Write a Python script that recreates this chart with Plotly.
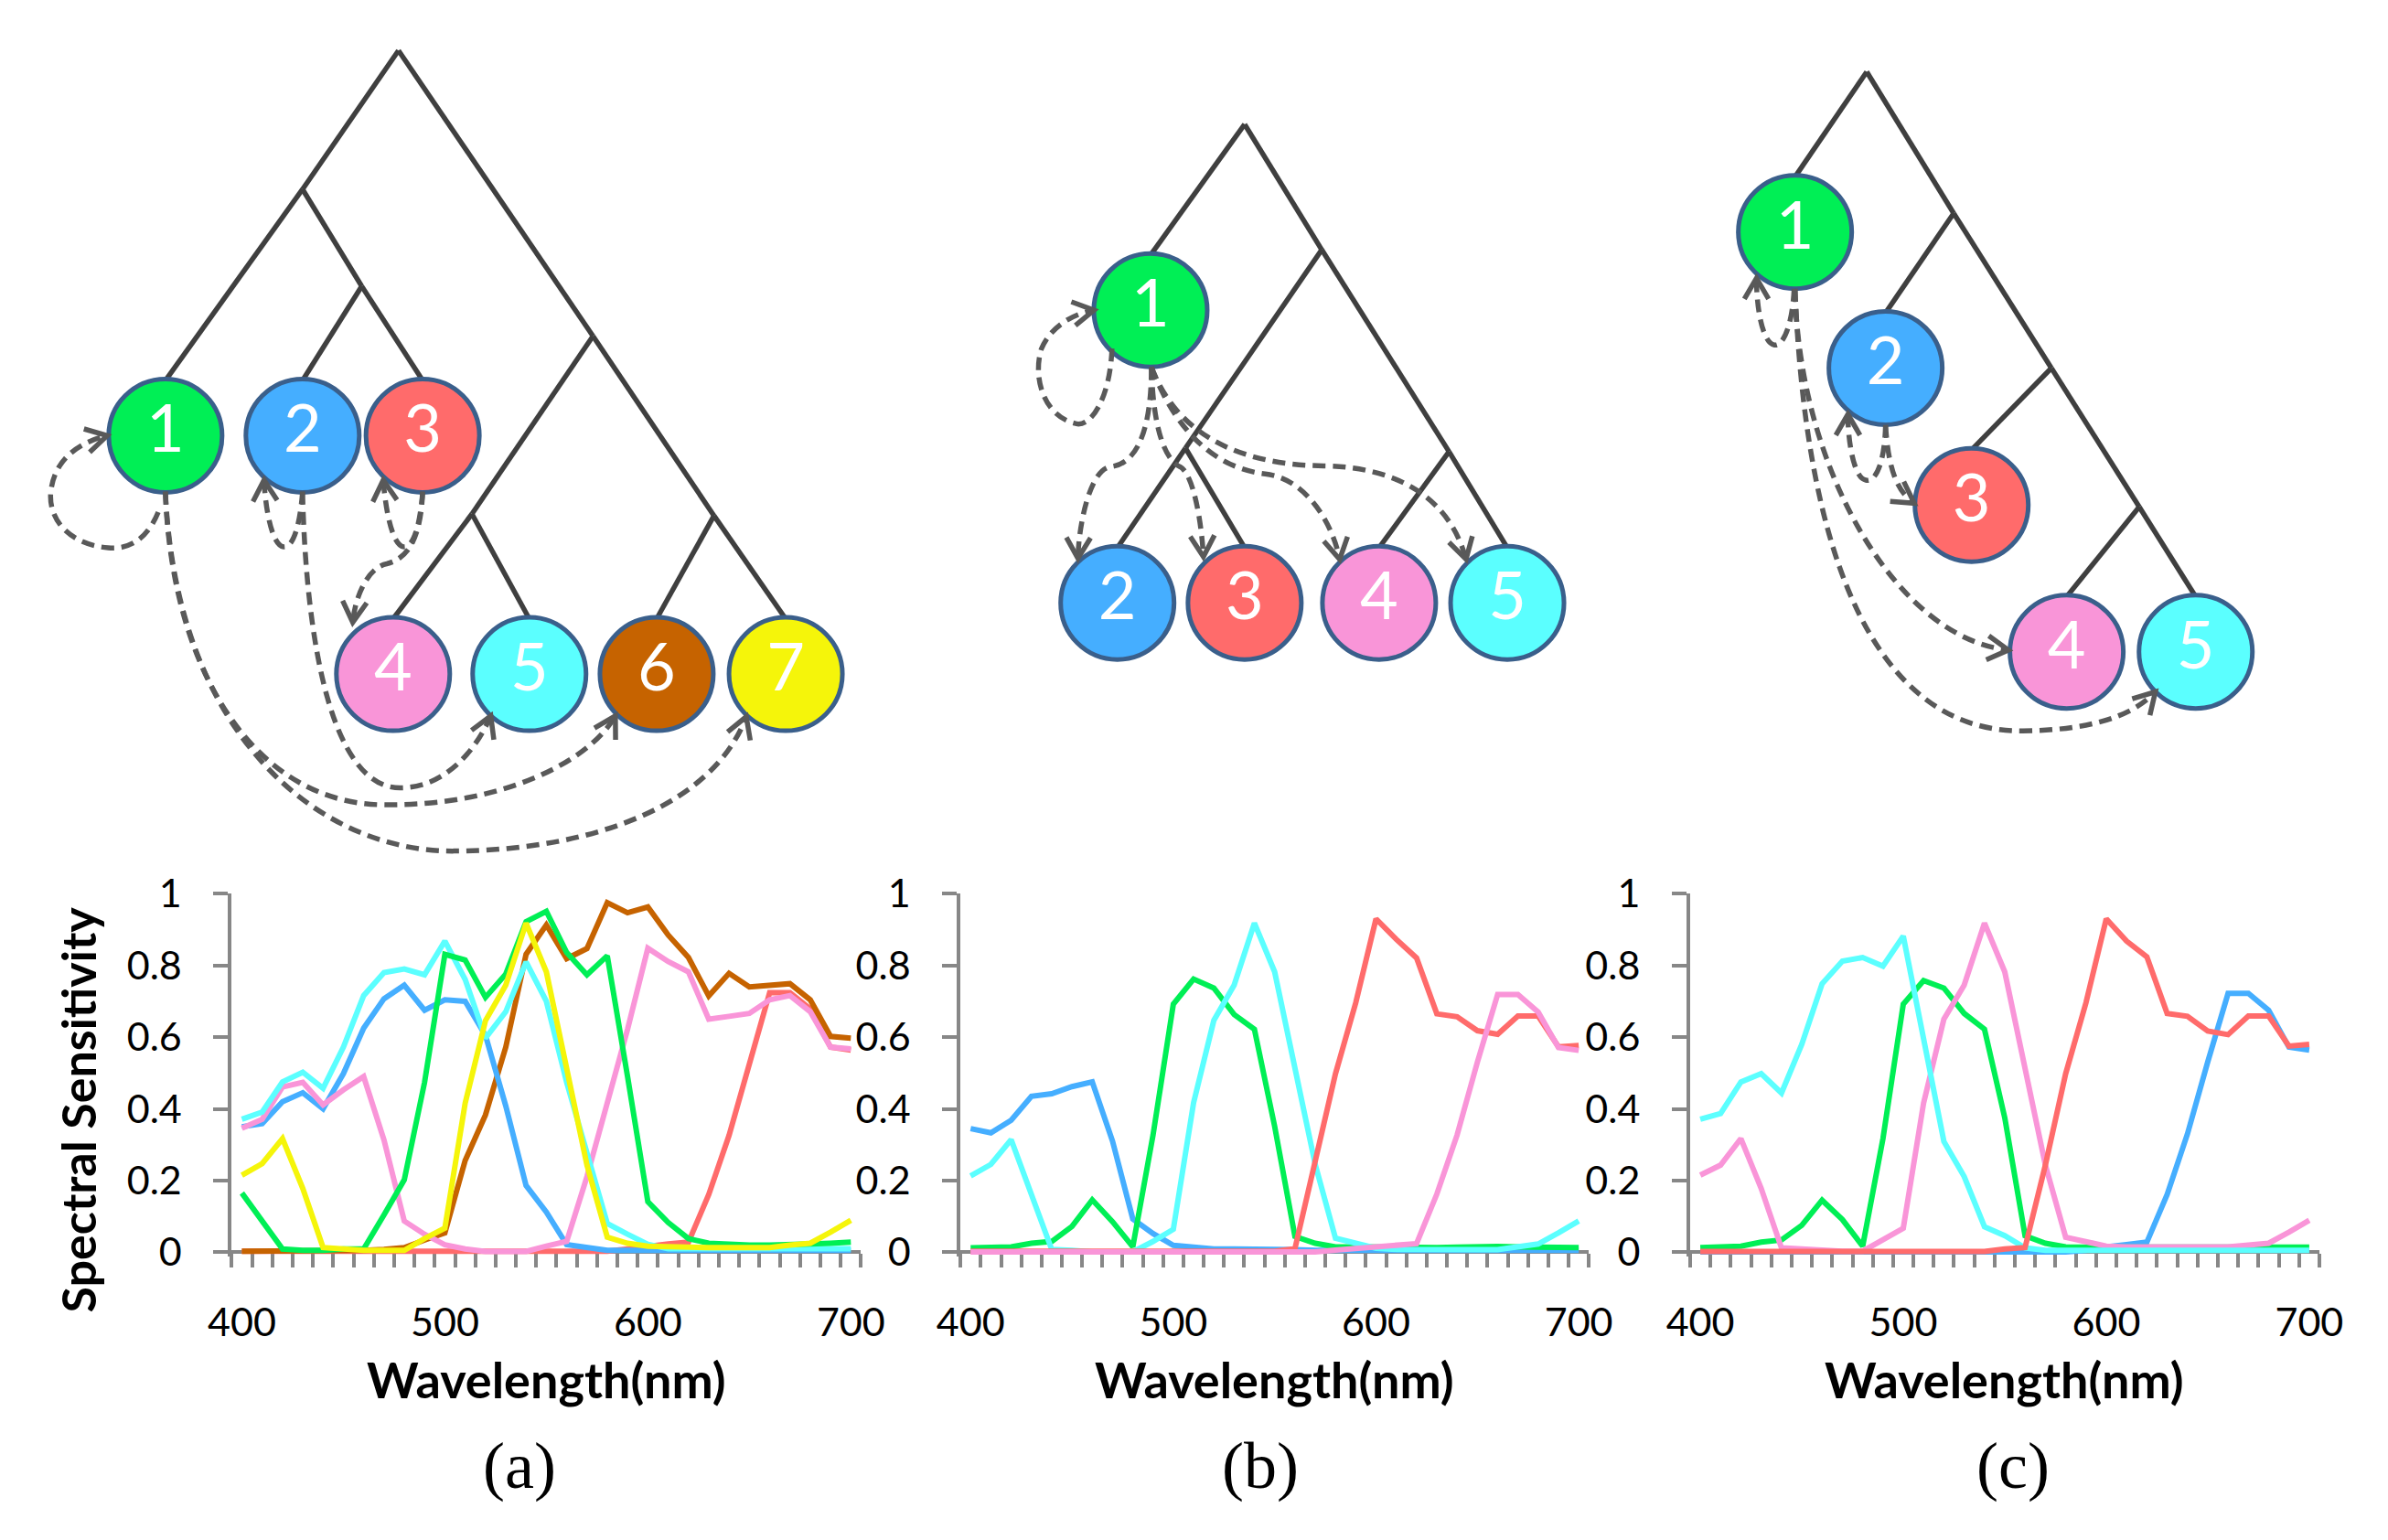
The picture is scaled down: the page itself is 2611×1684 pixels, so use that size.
import math
import plotly.graph_objects as go

W, H = 2611, 1684

# ---------------- chart data (wavelength 400..700 nm, step 10) ----------------
wavelength = list(range(400, 701, 10))

a_red = [0.003] * 19 + [0.009, 0.017, 0.023, 0.028, 0.161, 0.326, 0.531, 0.724, 0.724, 0.679, 0.572, 0.564]
a_brown = [0.003] * 6 + [0.005, 0.008, 0.013, 0.034, 0.054, 0.256, 0.383, 0.572, 0.831, 0.913, 0.819, 0.847,
                         0.975, 0.947, 0.963, 0.885, 0.822, 0.715, 0.778, 0.740, 0.745, 0.749, 0.704, 0.602, 0.597]
a_blue = [0.350, 0.359, 0.420, 0.445, 0.400, 0.498, 0.625, 0.707, 0.745, 0.675, 0.704, 0.700, 0.605, 0.408,
          0.186, 0.112, 0.021, 0.013, 0.005] + [0.005] * 12
a_pink = [0.346, 0.371, 0.461, 0.474, 0.411, 0.453, 0.490, 0.313, 0.087, 0.050, 0.021, 0.009, 0.002, 0.002,
          0.002, 0.017, 0.030, 0.211, 0.416, 0.622, 0.848, 0.811, 0.782, 0.650, 0.658, 0.666, 0.704, 0.716,
          0.671, 0.572, 0.567]
a_cyan = [0.371, 0.391, 0.475, 0.502, 0.457, 0.572, 0.716, 0.780, 0.790, 0.774, 0.868, 0.761, 0.597, 0.671,
          0.810, 0.700, 0.474, 0.280, 0.080, 0.050, 0.022] + [0.010] * 10
a_green = [0.165, 0.087, 0.009, 0.005, 0.005, 0.009, 0.009, 0.104, 0.202, 0.474, 0.831, 0.815, 0.711, 0.776,
           0.922, 0.951, 0.836, 0.774, 0.827, 0.490, 0.141, 0.083, 0.038, 0.025, 0.021, 0.020, 0.020, 0.020,
           0.023, 0.025, 0.028]
a_yellow = [0.215, 0.247, 0.317, 0.178, 0.013, 0.009, 0.005, 0.005, 0.005, 0.038, 0.067, 0.416, 0.646, 0.745,
            0.918, 0.782, 0.507, 0.243, 0.042, 0.025, 0.017, 0.015, 0.013, 0.013, 0.013, 0.013, 0.013, 0.020,
            0.025, 0.056, 0.089]

b_blue = [0.345, 0.333, 0.368, 0.435, 0.442, 0.462, 0.475, 0.310, 0.093, 0.052, 0.019, 0.013, 0.009, 0.009,
          0.009, 0.007, 0.007] + [0.005] * 14
b_green = [0.012, 0.012, 0.015, 0.025, 0.030, 0.072, 0.146, 0.085, 0.015, 0.327, 0.692, 0.762, 0.737, 0.663,
           0.622, 0.351, 0.044, 0.025, 0.015, 0.015, 0.014, 0.013, 0.013, 0.013, 0.014, 0.016, 0.016, 0.015,
           0.014, 0.013, 0.013]
b_cyan = [0.213, 0.245, 0.314, 0.163, 0.008, 0.005, 0.001, 0.001, 0.001, 0.030, 0.064, 0.417, 0.647, 0.745,
          0.918, 0.782, 0.507, 0.245, 0.039, 0.025, 0.011, 0.008, 0.007, 0.007, 0.007, 0.007, 0.007, 0.015,
          0.023, 0.054, 0.087]
b_red = [0.003] * 16 + [0.010, 0.250, 0.498, 0.696, 0.930, 0.873, 0.821, 0.665, 0.657, 0.618, 0.608, 0.659,
                        0.659, 0.573, 0.577]
b_pink = [0.001] * 18 + [0.006, 0.010, 0.014, 0.018, 0.024, 0.162, 0.327, 0.530, 0.719, 0.719, 0.670, 0.571, 0.563]

c_blue = [0.001] * 19 + [0.005, 0.015, 0.021, 0.028, 0.161, 0.330, 0.531, 0.722, 0.722, 0.675, 0.572, 0.564]
c_green = [0.013, 0.015, 0.017, 0.028, 0.034, 0.075, 0.145, 0.091, 0.017, 0.317, 0.692, 0.758, 0.737, 0.666,
           0.622, 0.375, 0.046, 0.025, 0.015, 0.014, 0.014, 0.013, 0.013, 0.014, 0.014, 0.015, 0.016, 0.016,
           0.015, 0.014, 0.014]
c_pink = [0.215, 0.243, 0.317, 0.178, 0.012, 0.009, 0.003, 0.003, 0.003, 0.034, 0.067, 0.416, 0.650, 0.745,
          0.918, 0.782, 0.507, 0.243, 0.042, 0.028, 0.017, 0.015, 0.015, 0.015, 0.015, 0.015, 0.015, 0.020,
          0.025, 0.056, 0.089]
c_cyan = [0.371, 0.387, 0.475, 0.498, 0.444, 0.580, 0.749, 0.812, 0.822, 0.798, 0.882, 0.595, 0.309, 0.211,
          0.071, 0.046, 0.012] + [0.005] * 14
c_red = [0.002] * 15 + [0.009, 0.013, 0.243, 0.498, 0.696, 0.930, 0.868, 0.824, 0.666, 0.658, 0.617, 0.607,
                        0.659, 0.659, 0.575, 0.580]

y_ticks = [0, 0.2, 0.4, 0.6, 0.8, 1]
y_ticktext = ["0", "0.2", "0.4", "0.6", "0.8", "1"]
x_ticks = [400, 500, 600, 700]
panel_labels = ["(a)", "(b)", "(c)"]
x_title = "Wavelength(nm)"
y_title = "Spectral Sensitivity"

# ---------------- tree diagrams (pixel positions in the figure) ----------------
tree_a_node_x = [158, 311, 445, 412, 564, 706, 850]
tree_a_node_y = [462, 462, 462, 730, 730, 730, 730]
tree_a_labels = ["1", "2", "3", "4", "5", "6", "7"]
tree_a_joint = {"r": (418, 29), "A": (311, 185), "B": (377, 294), "C": (635, 350), "D": (500, 550), "E": (770, 552)}
tree_a_edges = [("r", "A"), ("A", 0), ("A", "B"), ("B", 1), ("B", 2), ("r", "C"), ("C", "D"), ("D", 3),
                ("D", 4), ("C", "E"), ("E", 5), ("E", 6)]

tree_b_node_x = [1257, 1220, 1362, 1512, 1655]
tree_b_node_y = [321, 650, 650, 650, 650]
tree_b_labels = ["1", "2", "3", "4", "5"]
tree_b_joint = {"r": (1362, 112), "A": (1448, 253), "B": (1296, 476), "D": (1590, 480)}
tree_b_edges = [("r", 0), ("r", "A"), ("A", "B"), ("B", 1), ("B", 2), ("A", "D"), ("D", 3), ("D", 4)]

tree_c_node_x = [1976, 2077, 2173, 2279, 2423]
tree_c_node_y = [233, 386, 540, 705, 705]
tree_c_labels = ["1", "2", "3", "4", "5"]
tree_c_joint = {"r": (2056, 53), "J1": (2153, 212), "J2": (2262, 386), "J3": (2360, 542)}
tree_c_edges = [("r", 0), ("r", "J1"), ("J1", 1), ("J1", "J2"), ("J2", 2), ("J2", "J3"), ("J3", 3), ("J3", 4)]

# dashed arrows: cubic bezier control points (start, then groups of 3)
arrows_a = [
    [(150, 548), (135, 585), (110, 590), (94, 588), (55, 585), (28, 560), (30, 527), (33, 490), (60, 470), (93, 462)],
    [(311, 525), (308, 565), (300, 588), (290, 587), (278, 586), (270, 550), (268, 512)],
    [(445, 525), (442, 565), (434, 588), (424, 587), (412, 586), (404, 550), (401, 512)],
    [(445, 525), (443, 575), (430, 600), (405, 606), (385, 610), (370, 640), (367, 672)],
    [(311, 525), (315, 700), (345, 858), (420, 858), (470, 858), (505, 815), (521, 777)],
    [(158, 525), (165, 730), (260, 875), (400, 877), (530, 879), (630, 830), (660, 777)],
    [(158, 525), (170, 800), (330, 930), (480, 929), (640, 928), (770, 875), (806, 778)],
]
arrows_b = [
    [(1214, 364), (1212, 420), (1190, 455), (1172, 448), (1140, 440), (1125, 400), (1135, 365), (1145, 340),
     (1170, 325), (1194, 321)],
    [(1258, 385), (1258, 470), (1235, 495), (1212, 497), (1190, 500), (1177, 560), (1176, 600)],
    [(1258, 385), (1260, 460), (1275, 490), (1290, 497), (1305, 505), (1314, 560), (1316, 598)],
    [(1258, 385), (1290, 470), (1340, 500), (1385, 505), (1430, 510), (1460, 560), (1468, 601)],
    [(1258, 385), (1290, 470), (1370, 495), (1450, 496), (1530, 497), (1590, 530), (1609, 601)],
]
arrows_c = [
    [(1975, 297), (1973, 340), (1962, 362), (1953, 360), (1940, 358), (1933, 320), (1933, 285)],
    [(2077, 450), (2076, 495), (2065, 515), (2055, 512), (2042, 510), (2035, 470), (2035, 438)],
    [(2077, 450), (2080, 500), (2090, 525), (2109, 538)],
    [(1976, 297), (1980, 500), (2090, 690), (2214, 703)],
    [(1976, 297), (1990, 650), (2090, 795), (2230, 794), (2300, 793), (2350, 780), (2378, 750)],
]

# ---------------- styles ----------------
GREEN, BLUE, RED, PINK = "#00EF55", "#45AEFF", "#FF6B6B", "#F995D8"
CYAN, BROWN, YELLOW = "#5BFFFF", "#C66300", "#F5F50A"
AXIS_GRAY = "#878787"
TREE_LINE = "#3F3F3F"
NODE_EDGE = "#3A5F8B"
DASH_GRAY = "#595959"
NODE_R = 62

tree_a_colors = [GREEN, BLUE, RED, PINK, CYAN, BROWN, YELLOW]
tree_b_colors = [GREEN, BLUE, RED, PINK, CYAN]
tree_c_colors = [GREEN, BLUE, RED, PINK, CYAN]

charts = [
    {"px": (232, 934), "series": [(a_red, RED), (a_brown, BROWN), (a_blue, BLUE), (a_pink, PINK),
                                  (a_cyan, CYAN), (a_green, GREEN), (a_yellow, YELLOW)]},
    {"px": (1045, 1746), "series": [(b_blue, BLUE), (b_green, GREEN), (b_cyan, CYAN), (b_red, RED),
                                    (b_pink, PINK)]},
    {"px": (1859, 2561), "series": [(c_blue, BLUE), (c_green, GREEN), (c_pink, PINK), (c_cyan, CYAN),
                                    (c_red, RED)]},
]
Y_TOP_PX, Y_ZERO_PX = 977, 1380
Y_MIN = -0.012
y_bot_px = Y_ZERO_PX + (-Y_MIN) * (Y_ZERO_PX - Y_TOP_PX)

fig = go.Figure()

# overlay pixel axis for the diagrams
layout = dict(
    xaxis=dict(domain=[0, 1], range=[0, W], visible=False, fixedrange=True),
    yaxis=dict(domain=[0, 1], range=[H, 0], visible=False, fixedrange=True),
)


def tree_traces(node_x, node_y, labels, joints, edges, colors):
    ex, ey = [], []

    def pt(k):
        if isinstance(k, int):
            return node_x[k], node_y[k] - NODE_R
        return joints[k]

    for a, b in edges:
        p, q = pt(a), pt(b)
        ex += [p[0], q[0], None]
        ey += [p[1], q[1], None]
    fig.add_trace(go.Scatter(x=ex, y=ey, mode="lines", line=dict(color=TREE_LINE, width=5.5),
                             hoverinfo="skip", showlegend=False, xaxis="x", yaxis="y"))
    fig.add_trace(go.Scatter(x=node_x, y=node_y, mode="markers+text", text=labels,
                             textposition="middle center",
                             textfont=dict(family="Lato", size=72, color="white"),
                             marker=dict(size=2 * NODE_R, color=colors, line=dict(color=NODE_EDGE, width=5)),
                             hoverinfo="skip", showlegend=False, xaxis="x", yaxis="y"))


tree_traces(tree_a_node_x, tree_a_node_y, tree_a_labels, tree_a_joint, tree_a_edges, tree_a_colors)
tree_traces(tree_b_node_x, tree_b_node_y, tree_b_labels, tree_b_joint, tree_b_edges, tree_b_colors)
tree_traces(tree_c_node_x, tree_c_node_y, tree_c_labels, tree_c_joint, tree_c_edges, tree_c_colors)

shapes = []


def add_arrow(pts):
    path = f"M {pts[0][0]},{pts[0][1]}"
    for i in range(1, len(pts), 3):
        a, b, c = pts[i], pts[i + 1], pts[i + 2]
        path += f" C {a[0]},{a[1]} {b[0]},{b[1]} {c[0]},{c[1]}"
    shapes.append(dict(type="path", path=path, xref="x", yref="y",
                       line=dict(color=DASH_GRAY, width=5.5, dash="14px,8px")))
    (x2, y2), (x3, y3) = pts[-2], pts[-1]
    dx, dy = x3 - x2, y3 - y2
    n = math.hypot(dx, dy)
    bx, by = -dx / n, -dy / n
    L, ang = 27, math.radians(30)
    arms = []
    for s in (1, -1):
        ca, sa = math.cos(s * ang), math.sin(s * ang)
        arms.append((x3 + L * (bx * ca - by * sa), y3 + L * (bx * sa + by * ca)))
    hp = f"M {arms[0][0]:.1f},{arms[0][1]:.1f} L {x3},{y3} L {arms[1][0]:.1f},{arms[1][1]:.1f}"
    shapes.append(dict(type="path", path=hp, xref="x", yref="y", line=dict(color=DASH_GRAY, width=5.5)))


for arr in arrows_a + arrows_b + arrows_c:
    add_arrow(arr)

# ---------------- line charts ----------------
annotations = []
for k, ch in enumerate(charts):
    xa = "x" + str(k + 2)
    ya = "y" + str(k + 2)
    x0, x1 = ch["px"]
    for vals, col in ch["series"]:
        fig.add_trace(go.Scatter(x=wavelength, y=vals, mode="lines", line=dict(color=col, width=6),
                                 hoverinfo="skip", showlegend=False, xaxis=xa, yaxis=ya))
    layout["xaxis" + str(k + 2)] = dict(
        domain=[x0 / W, x1 / W], range=[395, 705], anchor="free", position=1 - Y_ZERO_PX / H,
        showline=True, linecolor=AXIS_GRAY, linewidth=4, layer="below traces",
        tickmode="array", tickvals=x_ticks, ticktext=[str(v) for v in x_ticks], ticks="",
        ticklabelstandoff=38, tickfont=dict(family="Lato", size=43, color="black"),
        minor=dict(ticks="outside", tick0=395, dtick=10, ticklen=15, tickwidth=4, tickcolor=AXIS_GRAY,
                   showgrid=False),
        showgrid=False, zeroline=False, fixedrange=True)
    layout["yaxis" + str(k + 2)] = dict(
        domain=[1 - y_bot_px / H, 1 - Y_TOP_PX / H], range=[Y_MIN, 1], anchor=xa,
        showline=True, linecolor=AXIS_GRAY, linewidth=4, layer="below traces",
        tickmode="array", tickvals=y_ticks, ticktext=y_ticktext, ticks="outside", ticklen=16, tickwidth=4,
        tickcolor=AXIS_GRAY, ticklabelstandoff=26, tickfont=dict(family="Lato", size=43, color="black"),
        showgrid=False, zeroline=False, fixedrange=True)
    annotations.append(dict(text="<b>" + x_title + "</b>", x=(x0 + x1) / 2, y=1523, xref="x", yref="y",
                            showarrow=False, font=dict(family="Lato", size=54, color="black"),
                            xanchor="center", yanchor="middle"))

panel_x = [553, 1379, 2219]
for lab, px in zip(panel_labels, panel_x):
    annotations.append(dict(text=lab, x=px, y=1620, xref="x", yref="y", showarrow=False,
                            font=dict(family="Times New Roman, Liberation Serif, serif", size=72, color="black"),
                            xanchor="center", yanchor="middle"))

annotations.append(dict(text="<b>" + y_title + "</b>", x=60, y=1220, xref="x", yref="y", showarrow=False,
                        textangle=-90, font=dict(family="Lato", size=52, color="black"),
                        xanchor="center", yanchor="middle"))

fig.update_layout(**layout)
fig.update_layout(width=W, height=H, margin=dict(l=0, r=0, t=0, b=0, pad=0),
                  paper_bgcolor="white", plot_bgcolor="rgba(0,0,0,0)",
                  shapes=shapes, annotations=annotations, showlegend=False)

fig.write_html("out.html", config={"displayModeBar": False},
               post_script="document.body.style.margin='0';document.body.style.overflow='hidden';")
